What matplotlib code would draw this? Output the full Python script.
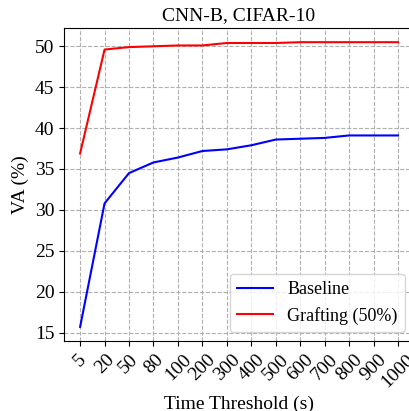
import matplotlib
matplotlib.use("Agg")
import matplotlib.pyplot as plt

# ##### Data #####
thresholds = ["5", "20", "50", "80", "100", "200", "300", "400", "500",
              "600", "700", "800", "900", "1000"]
baseline = [15.7, 30.8, 34.5, 35.8, 36.4, 37.2, 37.4, 37.9, 38.6,
            38.7, 38.8, 39.1, 39.1, 39.1]
grafting = [36.9, 49.6, 49.9, 50.0, 50.1, 50.1, 50.4, 50.4, 50.4,
            50.5, 50.5, 50.5, 50.5, 50.5]


def main():
    plt.rcParams['font.family'] = ['Liberation Serif', 'DejaVu Serif']
    plt.rcParams['font.size'] = 14

    fig = plt.figure(figsize=(4.09, 4.11), dpi=100)
    ax = fig.add_axes([0.157, 0.170, 0.855, 0.762])

    x = list(range(len(thresholds)))
    ax.plot(x, baseline, color="blue", label="Baseline")
    ax.plot(x, grafting, color="red", label="Grafting (50%)")

    ax.set_xticks(x)
    ax.set_xticklabels(thresholds, rotation=45)
    ax.set_yticks([15, 20, 25, 30, 35, 40, 45, 50])
    ax.tick_params(labelsize=14)
    ax.set_xlabel("Time Threshold (s)", fontsize=14)
    ax.set_ylabel("VA (%)", fontsize=14)
    ax.set_title("CNN-B, CIFAR-10", fontsize=14)
    ax.grid(True, linestyle="--", color="#b0b0b0", linewidth=0.8)
    ax.legend(loc="lower right", fontsize=13)

    fig.savefig("out.png", dpi=100)


if __name__ == "__main__":
    main()
